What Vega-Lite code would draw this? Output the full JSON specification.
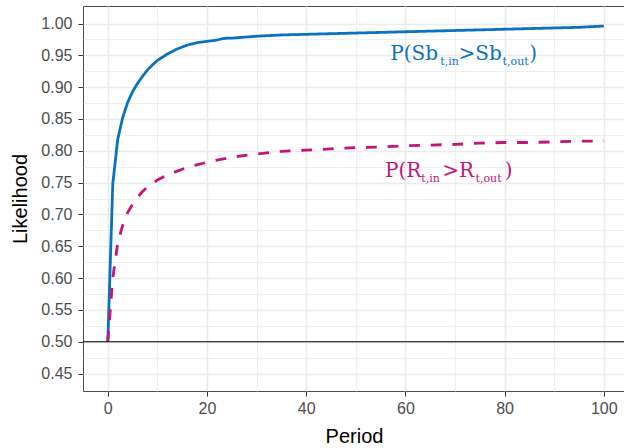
{
  "$schema": "https://vega.github.io/schema/vega-lite/v6.json",
  "width": 542,
  "height": 385,
  "autosize": "none",
  "padding": {"left": 83, "top": 6, "right": 0, "bottom": 57},
  "background": "white",
  "config": {
    "view": {"stroke": "#4d4d4d", "strokeWidth": 1},
    "axis": {"labelFont": "Liberation Sans", "titleFont": "Liberation Sans", "labelColor": "#4D4D4D", "labelFontSize": 16, "titleFontSize": 20, "titleFontWeight": "normal", "titleColor": "#000000", "tickColor": "#333333", "tickSize": 5, "domain": false, "gridColor": "#EBEBEB"}
  },
  "datasets": {
    "lines": [
      {"Period": 0, "Likelihood": 0.5, "series": "Sb"},
      {"Period": 1, "Likelihood": 0.748, "series": "Sb"},
      {"Period": 2, "Likelihood": 0.818, "series": "Sb"},
      {"Period": 3, "Likelihood": 0.852, "series": "Sb"},
      {"Period": 4, "Likelihood": 0.876, "series": "Sb"},
      {"Period": 5, "Likelihood": 0.893, "series": "Sb"},
      {"Period": 6, "Likelihood": 0.906, "series": "Sb"},
      {"Period": 7, "Likelihood": 0.917, "series": "Sb"},
      {"Period": 8, "Likelihood": 0.927, "series": "Sb"},
      {"Period": 9, "Likelihood": 0.935, "series": "Sb"},
      {"Period": 10, "Likelihood": 0.942, "series": "Sb"},
      {"Period": 11, "Likelihood": 0.947, "series": "Sb"},
      {"Period": 12, "Likelihood": 0.952, "series": "Sb"},
      {"Period": 13, "Likelihood": 0.956, "series": "Sb"},
      {"Period": 14, "Likelihood": 0.96, "series": "Sb"},
      {"Period": 15, "Likelihood": 0.963, "series": "Sb"},
      {"Period": 16, "Likelihood": 0.966, "series": "Sb"},
      {"Period": 17, "Likelihood": 0.968, "series": "Sb"},
      {"Period": 18, "Likelihood": 0.97, "series": "Sb"},
      {"Period": 19, "Likelihood": 0.971, "series": "Sb"},
      {"Period": 20, "Likelihood": 0.972, "series": "Sb"},
      {"Period": 21, "Likelihood": 0.973, "series": "Sb"},
      {"Period": 22, "Likelihood": 0.974, "series": "Sb"},
      {"Period": 23, "Likelihood": 0.976, "series": "Sb"},
      {"Period": 24, "Likelihood": 0.977, "series": "Sb"},
      {"Period": 25, "Likelihood": 0.977, "series": "Sb"},
      {"Period": 30, "Likelihood": 0.98, "series": "Sb"},
      {"Period": 35, "Likelihood": 0.982, "series": "Sb"},
      {"Period": 40, "Likelihood": 0.983, "series": "Sb"},
      {"Period": 45, "Likelihood": 0.984, "series": "Sb"},
      {"Period": 50, "Likelihood": 0.985, "series": "Sb"},
      {"Period": 55, "Likelihood": 0.986, "series": "Sb"},
      {"Period": 60, "Likelihood": 0.987, "series": "Sb"},
      {"Period": 65, "Likelihood": 0.988, "series": "Sb"},
      {"Period": 70, "Likelihood": 0.989, "series": "Sb"},
      {"Period": 75, "Likelihood": 0.99, "series": "Sb"},
      {"Period": 80, "Likelihood": 0.991, "series": "Sb"},
      {"Period": 85, "Likelihood": 0.992, "series": "Sb"},
      {"Period": 90, "Likelihood": 0.993, "series": "Sb"},
      {"Period": 95, "Likelihood": 0.994, "series": "Sb"},
      {"Period": 100, "Likelihood": 0.996, "series": "Sb"},
      {"Period": 0, "Likelihood": 0.5, "series": "R"},
      {"Period": 1, "Likelihood": 0.6, "series": "R"},
      {"Period": 2, "Likelihood": 0.655, "series": "R"},
      {"Period": 3, "Likelihood": 0.683, "series": "R"},
      {"Period": 4, "Likelihood": 0.703, "series": "R"},
      {"Period": 5, "Likelihood": 0.716, "series": "R"},
      {"Period": 6, "Likelihood": 0.727, "series": "R"},
      {"Period": 7, "Likelihood": 0.736, "series": "R"},
      {"Period": 8, "Likelihood": 0.743, "series": "R"},
      {"Period": 9, "Likelihood": 0.749, "series": "R"},
      {"Period": 10, "Likelihood": 0.754, "series": "R"},
      {"Period": 11, "Likelihood": 0.758, "series": "R"},
      {"Period": 12, "Likelihood": 0.762, "series": "R"},
      {"Period": 13, "Likelihood": 0.765, "series": "R"},
      {"Period": 14, "Likelihood": 0.768, "series": "R"},
      {"Period": 15, "Likelihood": 0.771, "series": "R"},
      {"Period": 16, "Likelihood": 0.774, "series": "R"},
      {"Period": 17, "Likelihood": 0.776, "series": "R"},
      {"Period": 18, "Likelihood": 0.778, "series": "R"},
      {"Period": 19, "Likelihood": 0.78, "series": "R"},
      {"Period": 20, "Likelihood": 0.782, "series": "R"},
      {"Period": 25, "Likelihood": 0.79, "series": "R"},
      {"Period": 30, "Likelihood": 0.795, "series": "R"},
      {"Period": 35, "Likelihood": 0.799, "series": "R"},
      {"Period": 40, "Likelihood": 0.801, "series": "R"},
      {"Period": 45, "Likelihood": 0.803, "series": "R"},
      {"Period": 50, "Likelihood": 0.805, "series": "R"},
      {"Period": 55, "Likelihood": 0.806, "series": "R"},
      {"Period": 60, "Likelihood": 0.808, "series": "R"},
      {"Period": 65, "Likelihood": 0.809, "series": "R"},
      {"Period": 70, "Likelihood": 0.81, "series": "R"},
      {"Period": 75, "Likelihood": 0.812, "series": "R"},
      {"Period": 80, "Likelihood": 0.813, "series": "R"},
      {"Period": 85, "Likelihood": 0.813, "series": "R"},
      {"Period": 90, "Likelihood": 0.814, "series": "R"},
      {"Period": 95, "Likelihood": 0.815, "series": "R"},
      {"Period": 100, "Likelihood": 0.8155, "series": "R"}
    ],
    "mainText": [
      {"label": "P(Sb", "Period": 61.75, "Likelihood": 0.9428, "series": "Sb"},
      {"label": ">Sb", "Period": 75.06, "Likelihood": 0.9428, "series": "Sb"},
      {"label": ")", "Period": 85.75, "Likelihood": 0.9428, "series": "Sb"},
      {"label": "P(R", "Period": 59.54, "Likelihood": 0.7583, "series": "R"},
      {"label": ">R", "Period": 70.63, "Likelihood": 0.7583, "series": "R"},
      {"label": ")", "Period": 80.81, "Likelihood": 0.7583, "series": "R"}
    ],
    "subText": [
      {"label": "t,in", "Period": 68.91, "Likelihood": 0.9349, "series": "Sb"},
      {"label": "t,out", "Period": 82.22, "Likelihood": 0.9349, "series": "Sb"},
      {"label": "t,in", "Period": 65.08, "Likelihood": 0.7505, "series": "R"},
      {"label": "t,out", "Period": 76.77, "Likelihood": 0.7505, "series": "R"}
    ]
  },
  "layer": [
    {
      "data": {"name": "lines"},
      "mark": {"type": "line", "opacity": 0},
      "encoding": {
        "x": {"field": "Period", "type": "quantitative", "scale": {"domain": [-5, 104.27], "nice": false, "zero": false}, "axis": {"orient": "top", "values": [10, 30, 50, 70, 90], "grid": true, "gridWidth": 0.8, "labels": false, "ticks": false, "domain": false, "title": null}},
        "y": {"field": "Likelihood", "type": "quantitative", "scale": {"domain": [0.4225, 1.0275], "nice": false, "zero": false}, "axis": {"orient": "right", "values": [0.475, 0.525, 0.575, 0.625, 0.675, 0.725, 0.775, 0.825, 0.875, 0.925, 0.975], "grid": true, "gridWidth": 0.8, "labels": false, "ticks": false, "domain": false, "title": null}}
      }
    },
    {
      "data": {"name": "lines"},
      "mark": {"type": "line", "strokeWidth": 2.8, "strokeCap": "butt"},
      "encoding": {
        "x": {"field": "Period", "type": "quantitative", "axis": {"orient": "bottom", "values": [0, 20, 40, 60, 80, 100], "grid": true, "gridWidth": 1.6, "labelPadding": 4, "title": "Period", "titlePadding": 10}},
        "y": {"field": "Likelihood", "type": "quantitative", "axis": {"orient": "left", "values": [0.45, 0.5, 0.55, 0.6, 0.65, 0.7, 0.75, 0.8, 0.85, 0.9, 0.95, 1.0], "format": ".2f", "grid": true, "gridWidth": 1.6, "labelPadding": 6, "title": "Likelihood", "titlePadding": 10}},
        "color": {"field": "series", "type": "nominal", "scale": {"domain": ["Sb", "R"], "range": ["#0A72BE", "#C4147A"]}, "legend": null},
        "strokeDash": {"field": "series", "type": "nominal", "scale": {"domain": ["Sb", "R"], "range": [[1, 0], [10.8, 10.8]]}, "legend": null}
      }
    },
    {
      "data": {"values": [{}]},
      "mark": {"type": "rule", "color": "#000000", "strokeWidth": 1.1},
      "encoding": {"y": {"datum": 0.5, "type": "quantitative", "axis": null}}
    },
    {
      "data": {"name": "mainText"},
      "mark": {"type": "text", "font": "DejaVu Serif", "fontSize": 20, "align": "center", "baseline": "alphabetic"},
      "encoding": {
        "x": {"field": "Period", "type": "quantitative", "axis": null},
        "y": {"field": "Likelihood", "type": "quantitative", "axis": null},
        "color": {"field": "series", "type": "nominal", "legend": null},
        "text": {"field": "label"}
      }
    },
    {
      "data": {"name": "subText"},
      "mark": {"type": "text", "font": "DejaVu Serif", "fontSize": 11, "align": "center", "baseline": "alphabetic"},
      "encoding": {
        "x": {"field": "Period", "type": "quantitative", "axis": null},
        "y": {"field": "Likelihood", "type": "quantitative", "axis": null},
        "color": {"field": "series", "type": "nominal", "legend": null},
        "text": {"field": "label"}
      }
    }
  ],
  "resolve": {"axis": {"x": "independent", "y": "independent"}}
}
